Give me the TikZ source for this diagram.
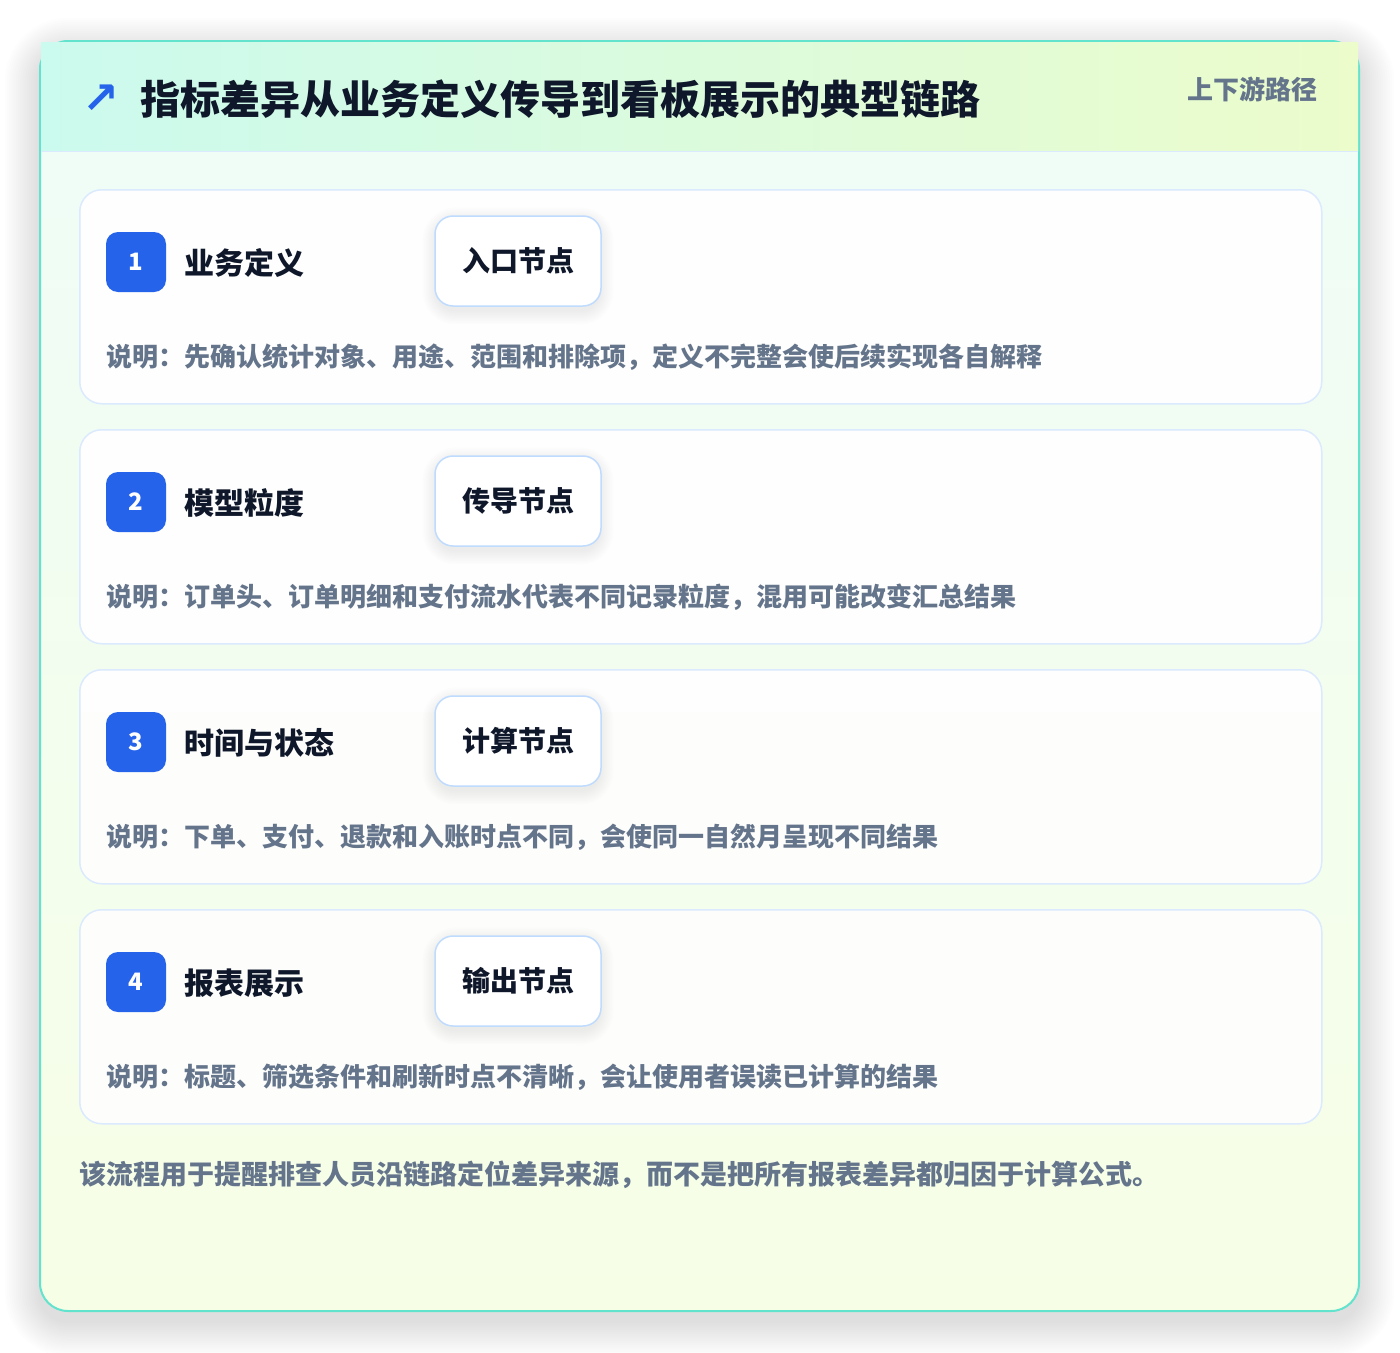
\documentclass[tikz,border=0pt]{standalone}
\usepackage{fontspec}
\setmainfont{Noto Sans CJK SC}
\newfontfamily\cjk{Noto Sans CJK SC}
\newfontfamily\symfont{DejaVu Sans}
\definecolor{tealb}{HTML}{62E3CD}
\definecolor{bgtop}{HTML}{EFFDF8}
\definecolor{bgbot}{HTML}{F7FEE6}
\definecolor{hdl}{HTML}{CBFAEE}
\definecolor{hdr}{HTML}{ECFCCB}
\definecolor{linebl}{HTML}{DBEAFE}
\definecolor{pillbl}{HTML}{BFDBFE}
\definecolor{badgebl}{HTML}{2563EB}
\definecolor{inkd}{HTML}{0F172A}
\definecolor{slatet}{HTML}{64748B}
% soft shadow: x1 y1 x2 y2 radius spread steps opacity
\newcommand\softshadow[8]{%
  \foreach \k in {1,...,#7}{%
    \pgfmathsetmacro\rr{#5+#6*\k}%
    \pgfmathsetmacro\ss{#6*\k}%
    \fill[black, opacity=#8, rounded corners=\rr pt] ({#1-\ss},{#2-\ss}) rectangle ({#3+\ss},{#4+\ss});
  }}
\begin{document}
\begin{tikzpicture}[x=1pt,y=-1pt,
  outer/.style={draw=tealb, line width=2pt, rounded corners=28pt, top color=bgtop, bottom color=bgbot, inner sep=0pt},
  header/.style={left color=hdl, right color=hdr, inner sep=0pt, draw=none},
  card/.style={draw=linebl, line width=1.5pt, fill=white, fill opacity=0.88, rounded corners=22pt, inner sep=0pt,
    minimum width=1242pt, minimum height=214pt},
  badge/.style={fill=badgebl, rounded corners=12pt, minimum size=60pt, inner sep=0pt, text=white,
    font=\cjk\bfseries\fontsize{24}{24}\selectfont},
  stepname/.style={anchor=west, inner sep=0pt, text=inkd, font=\cjk\bfseries\fontsize{30}{36}\selectfont},
  pill/.style={draw=pillbl, line width=1.5pt, fill=white, rounded corners=18pt, minimum width=166pt, minimum height=90pt,
    inner sep=0pt, text=inkd, font=\cjk\bfseries\fontsize{28}{28}\selectfont},
  desc/.style={anchor=west, inner sep=0pt, text=slatet, font=\cjk\bfseries\fontsize{26}{30}\selectfont}
]
\useasboundingbox (0,0) rectangle (1400,1352);
\fill[white] (0,0) rectangle (1400,1352);

\softshadow{40}{53}{1359}{1321}{28}{2.2}{16}{0.006}
\node[outer, minimum width=1319pt, minimum height=1270pt] (panel) at (699.5,676) {};
\node[header, minimum width=1317pt, minimum height=109pt, anchor=north west] (header) at (41,42) {};
\draw[linebl, line width=1.5pt] (header.south west) -- (header.south east);

\node[text=badgebl, inner sep=0pt, font=\symfont\bfseries\fontsize{44}{44}\selectfont] (icon) at (101,99) {↗};
\node[anchor=west, inner sep=0pt, text=inkd, font=\cjk\bfseries\fontsize{40}{48}\selectfont] (title) at (140,99) {指标差异从业务定义传导到看板展示的典型链路};
\node[anchor=east, inner sep=0pt, text=slatet, font=\cjk\bfseries\fontsize{26}{30}\selectfont] (tag) at (1318,89) {上下游路径};

\foreach \i/\t/\p/\d in {
  1/业务定义/入口节点/说明：先确认统计对象、用途、范围和排除项，定义不完整会使后续实现各自解释,
  2/模型粒度/传导节点/说明：订单头、订单明细和支付流水代表不同记录粒度，混用可能改变汇总结果,
  3/时间与状态/计算节点/说明：下单、支付、退款和入账时点不同，会使同一自然月呈现不同结果,
  4/报表展示/输出节点/说明：标题、筛选条件和刷新时点不清晰，会让使用者误读已计算的结果}{
  \pgfmathsetmacro\ctop{189+240*(\i-1)}
  \node[card, anchor=north west] (card\i) at (79,\ctop) {};
  \node[badge] (badge\i) at (136,\ctop+73) {\i};
  \node[stepname] (name\i) at (184,\ctop+74) {\t};
  \softshadow{437}{\ctop+33}{599}{\ctop+121}{18}{1.6}{9}{0.008}
  \node[pill] (pill\i) at (518,\ctop+72) {\p};
  \node[desc] (desc\i) at (106,\ctop+168) {\d};
}

\node[anchor=west, inner sep=0pt, text=slatet, font=\cjk\bfseries\fontsize{27}{32}\selectfont] (note) at (79,1175) {该流程用于提醒排查人员沿链路定位差异来源，而不是把所有报表差异都归因于计算公式。};
\end{tikzpicture}
\end{document}
